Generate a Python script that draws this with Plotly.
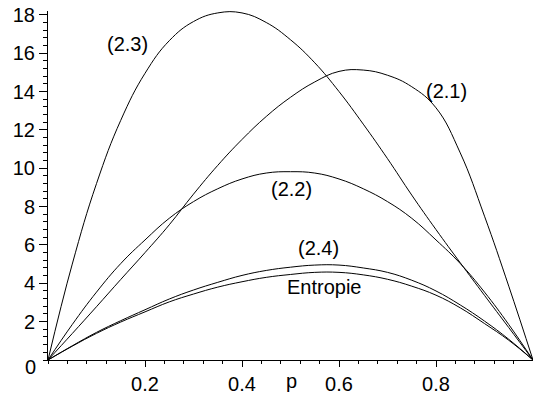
import plotly.graph_objects as go

p = [0.0, 0.05, 0.1, 0.15, 0.2, 0.25, 0.3, 0.35, 0.4, 0.45, 0.5,
     0.55, 0.6, 0.65, 0.7, 0.75, 0.8, 0.85, 0.9, 0.95, 1.0]

# (2.1)
y21 = [0.0, 1.38, 2.78, 4.2, 5.6, 7.05, 8.65, 10.15, 11.5, 12.7, 13.7,
       14.5, 15.05, 15.12, 14.85, 14.25, 13.15, 10.8, 7.5, 3.85, 0.0]
# (2.2)
y22 = [0.0, 1.85, 3.54, 5.03, 6.26, 7.39, 8.26, 8.93, 9.44, 9.75, 9.82,
       9.75, 9.44, 8.93, 8.26, 7.39, 6.26, 5.03, 3.54, 1.85, 0.0]
# (2.3)
y23 = [0.0, 5.0, 9.2, 12.5, 14.95, 16.65, 17.65, 18.1, 18.1, 17.6, 16.7,
       15.5, 14.0, 12.3, 10.5, 8.6, 6.8, 5.07, 3.37, 1.69, 0.0]
# (2.4)
y24 = [0.0, 0.74, 1.44, 2.05, 2.62, 3.18, 3.65, 4.05, 4.41, 4.67, 4.84,
       4.95, 4.95, 4.8, 4.57, 4.16, 3.6, 2.87, 2.03, 1.08, 0.0]
# Entropie
yent = [0.0, 0.72, 1.39, 1.98, 2.51, 3.03, 3.44, 3.8, 4.08, 4.31, 4.46,
        4.57, 4.57, 4.44, 4.21, 3.85, 3.38, 2.72, 1.9, 1.03, 0.0]

labels = ["(2.3)", "(2.1)", "(2.2)", "(2.4)", "Entropie"]
label_x = [0.1645, 0.821, 0.502, 0.558, 0.5695]
label_y = [16.47, 14.03, 8.92, 5.85, 3.79]

xticks = [0.2, 0.4, 0.6, 0.8]
yticks = [2, 4, 6, 8, 10, 12, 14, 16, 18]
YMAX = 18.2

FONT = "Liberation Sans, Arial, Helvetica, sans-serif"
FS = 20

fig = go.Figure()
for ys in [y21, y22, y23, y24, yent]:
    fig.add_trace(go.Scatter(x=p, y=ys, mode="lines",
                             line=dict(color="black", width=1, shape="spline", smoothing=1.2),
                             hoverinfo="skip", showlegend=False, cliponaxis=False))

for t, x, y in zip(labels, label_x, label_y):
    fig.add_annotation(x=x, y=y, text=t, showarrow=False, xref="x", yref="y",
                       xanchor="center", yanchor="middle",
                       font=dict(family=FONT, size=FS, color="black"))
fig.add_annotation(x=0.5014, y=-1.08 / YMAX, text="p", showarrow=False, xref="paper", yref="paper",
                   xanchor="center", yanchor="middle",
                   font=dict(family=FONT, size=FS, color="black"))
fig.add_annotation(x=-0.037, y=-0.35 / YMAX, text="0", showarrow=False, xref="paper", yref="paper",
                   xanchor="center", yanchor="middle",
                   font=dict(family=FONT, size=FS, color="black"))

fig.update_layout(
    width=533, height=396,
    margin=dict(l=48, r=0, t=11, b=36, autoexpand=False),
    paper_bgcolor="white", plot_bgcolor="white",
    font=dict(family=FONT, size=FS, color="black"),
    xaxis=dict(range=[0, 1.0], tickvals=xticks, ticktext=[str(v) for v in xticks],
               automargin=False,
               showgrid=False, zeroline=False, showline=True, linecolor="black", linewidth=1,
               ticks="outside", ticklen=6, tickcolor="black", tickwidth=1,
               minor=dict(dtick=0.04, tick0=0, ticks="outside", ticklen=3, tickcolor="black", tickwidth=1, showgrid=False)),
    yaxis=dict(range=[0, YMAX], tickvals=yticks, ticktext=[str(v) for v in yticks],
               automargin=False,
               showgrid=False, zeroline=False, showline=True, linecolor="black", linewidth=1,
               ticks="outside", ticklen=8, tickcolor="black", tickwidth=1,
               minor=dict(dtick=0.4, tick0=0, ticks="outside", ticklen=4, tickcolor="black", tickwidth=1, showgrid=False)),
)

# remove the default 8px page margin so the figure fills the window exactly
fig.write_html("out.html",
               config={"displayModeBar": False},
               post_script="document.body.style.margin='0';document.body.style.overflow='hidden';")
